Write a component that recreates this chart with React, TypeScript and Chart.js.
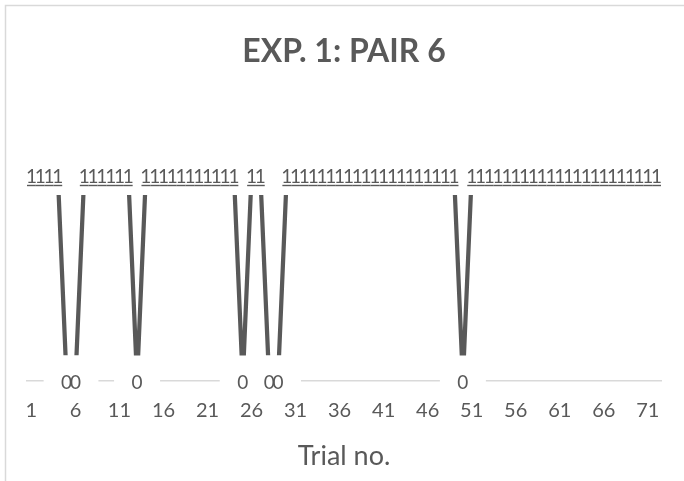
import React, { useEffect, useRef } from 'react';
import { Chart, registerables } from 'chart.js';

Chart.register(...registerables);

const chartTitle = 'EXP. 1: PAIR 6';
const axisTitle = 'Trial no.';

const trials: string[] = Array.from({ length: 72 }, (_, i) => String(i + 1));

const responses: number[] = [
  1, 1, 1, 1, 0, 0, 1, 1, 1, 1,
  1, 1, 0, 1, 1, 1, 1, 1, 1, 1,
  1, 1, 1, 1, 0, 1, 1, 0, 0, 1,
  1, 1, 1, 1, 1, 1, 1, 1, 1, 1,
  1, 1, 1, 1, 1, 1, 1, 1, 1, 0,
  1, 1, 1, 1, 1, 1, 1, 1, 1, 1,
  1, 1, 1, 1, 1, 1, 1, 1, 1, 1,
  1, 1,
];

const tickLabels: string[] = ['1', '6', '11', '16', '21', '26', '31', '36', '41', '46', '51', '56', '61', '66', '71'];

const TEXT = '#595959';

const framePlugin = {
  id: 'frame',
  beforeDraw(chart: any) {
    const { ctx, width, height } = chart;
    ctx.save();
    ctx.fillStyle = '#ffffff';
    ctx.fillRect(0, 0, width, height);
    ctx.strokeStyle = '#d9d9d9';
    ctx.lineWidth = 1.5;
    ctx.strokeRect(5.5, 5.5, width + 50, height + 50);
    ctx.restore();
  },
};

const labelPlugin = {
  id: 'valueLabels',
  afterDatasetsDraw(chart: any) {
    const ctx = chart.ctx;
    const meta = chart.getDatasetMeta(0);
    const xs = chart.scales.x;
    const catW = Math.abs(xs.getPixelForValue(1) - xs.getPixelForValue(0));
    ctx.save();
    ctx.fillStyle = '#ffffff';
    meta.data.forEach((pt: any) => {
      const base = pt.y + 8;
      ctx.fillRect(pt.x - 23, base - 33, 46, 45);
    });
    ctx.font = '19px Lato';
    ctx.textAlign = 'center';
    ctx.textBaseline = 'alphabetic';
    ctx.fillStyle = TEXT;
    ctx.strokeStyle = TEXT;
    ctx.lineWidth = 1.4;
    meta.data.forEach((pt: any, i: number) => {
      const v = responses[i];
      const base = pt.y + 8;
      ctx.fillText(String(v), pt.x, base);
      if (v === 1) {
        ctx.beginPath();
        ctx.moveTo(pt.x - catW / 2, base + 2.5);
        ctx.lineTo(pt.x + catW / 2, base + 2.5);
        ctx.stroke();
      }
    });
    ctx.restore();
  },
};

export default function App() {
  const canvasRef = useRef<HTMLCanvasElement | null>(null);

  useEffect(() => {
    document.body.style.margin = '0';
    const canvas = canvasRef.current;
    if (!canvas) return;
    const chart = new Chart(canvas, {
      type: 'line',
      data: {
        labels: trials,
        datasets: [
          {
            data: responses,
            borderColor: '#595959',
            borderWidth: 4.25,
            pointRadius: 0,
            tension: 0,
            fill: false,
          },
        ],
      },
      options: {
        responsive: false,
        animation: false,
        devicePixelRatio: 1,
        layout: { padding: { left: 27, right: 23, top: 0, bottom: 0 } },
        plugins: {
          legend: { display: false },
          tooltip: { enabled: false },
          title: {
            display: true,
            text: chartTitle,
            color: TEXT,
            font: { family: 'Lato', size: 32, weight: 'bold', lineHeight: 1.2 },
            padding: { top: 32, bottom: 104.6 },
          },
        },
        scales: {
          y: {
            display: false,
            min: 0,
            max: 1,
          },
          x: {
            offset: true,
            grid: { display: false, drawTicks: false },
            border: { display: true, color: '#d9d9d9', width: 1.5 },
            ticks: {
              autoSkip: false,
              maxRotation: 0,
              minRotation: 0,
              padding: 17.8,
              color: TEXT,
              font: { family: 'Lato', size: 20, lineHeight: 1.2 },
              callback: (_v: any, idx: number) => (tickLabels.includes(trials[idx]) ? trials[idx] : ''),
            },
            title: {
              display: true,
              text: axisTitle,
              color: TEXT,
              font: { family: 'Lato', size: 27, lineHeight: 1.2 },
              padding: { top: 0, bottom: 8.5 },
            },
          },
        },
      },
      plugins: [framePlugin, labelPlugin],
    });
    return () => chart.destroy();
  }, []);

  return (
    <div style={{ width: 684, height: 481 }}>
      <canvas ref={canvasRef} width={684} height={481} style={{ display: 'block' }} />
    </div>
  );
}
